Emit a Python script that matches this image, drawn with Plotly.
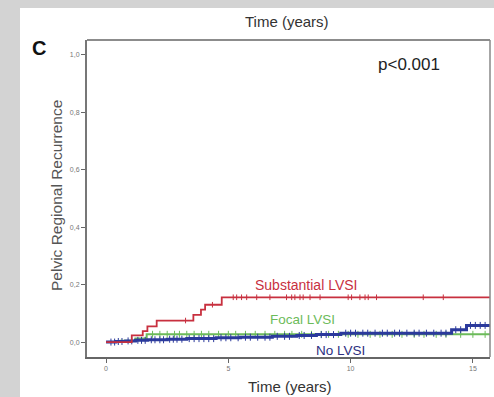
import plotly.graph_objects as go

# ---- data ----
sub_times = [0, 1.05, 1.5, 1.69, 2.07, 3.57, 3.88, 4.05, 4.73, 15.7]
sub_vals = [0, 0.023, 0.038, 0.055, 0.075, 0.095, 0.113, 0.13, 0.156, 0.156]
sub_cens = [3.25, 4.35, 5.2, 5.34, 5.54, 5.75, 6.16, 6.7, 7.38, 7.59, 7.72, 7.93,
            8.06, 8.34, 8.75, 9.9, 10.04, 10.38, 10.59, 10.72, 11.06, 12.97, 13.79]

foc_times = [0, 0.6, 1.2, 1.66, 15.7]
foc_vals = [0, 0.005, 0.012, 0.027, 0.027]
foc_cens = [1.9, 2.2, 2.5, 2.8, 3.0, 3.3, 3.6, 3.9, 4.2, 4.6, 5.0, 5.3, 5.7, 6.1,
            6.5, 6.9, 7.3, 7.6, 8.0, 8.4, 8.8, 9.1, 9.5, 9.9, 10.3, 10.8, 11.2,
            11.7, 12.1, 12.6, 13.0, 13.5, 13.9, 14.5, 15.0, 15.5]

no_times = [0, 0.4, 0.8, 1.2, 1.7, 2.5, 3.3, 4.5, 5.5, 6.8, 7.8, 8.6, 9.6, 14.13, 14.74, 15.7]
no_vals = [0, 0.002, 0.004, 0.006, 0.008, 0.010, 0.012, 0.015, 0.017, 0.020, 0.023,
           0.026, 0.031, 0.043, 0.058, 0.058]
no_cens = [0.2, 0.35, 0.5, 0.65, 0.9, 1.05, 1.3, 1.45, 1.6, 1.85, 2.0, 2.2, 2.35,
           2.6, 2.75, 2.9, 3.1, 3.4, 3.6, 3.8, 4.0, 4.2, 4.4, 4.7, 4.9, 5.1, 5.4,
           5.7, 5.9, 6.2, 6.5, 6.7, 7.0, 7.3, 7.5, 7.9, 8.1, 8.4, 8.8, 9.0, 9.3,
           9.8, 10.0, 10.2, 10.5, 10.7, 11.0, 11.3, 11.5, 11.8, 12.0, 12.3, 12.6,
           12.8, 13.1, 13.4, 13.7, 13.9, 14.3, 14.5, 14.9, 15.1, 15.3, 15.5]

x_ticks = [0, 5, 10, 15]
y_ticks = [0, 0.2, 0.4, 0.6, 0.8, 1.0]
y_tick_text = ["0,0", "0,2", "0,4", "0,6", "0,8", "1,0"]

RED = "#c8303f"
GREEN = "#6cbb5a"
BLUE = "#2b3a9c"


def step_at(times, vals, t):
    v = vals[0]
    for tt, vv in zip(times, vals):
        if tt <= t:
            v = vv
    return v


fig = go.Figure()


def add_curve(times, vals, cens, color, width, msize):
    fig.add_trace(go.Scatter(x=times, y=vals, mode="lines", line=dict(color=color, width=width, shape="hv"),
                             showlegend=False, hoverinfo="skip"))
    fig.add_trace(go.Scatter(x=cens, y=[step_at(times, vals, c) for c in cens], mode="markers",
                             marker=dict(symbol="line-ns", size=msize, line=dict(color=color, width=1)),
                             showlegend=False, hoverinfo="skip"))


add_curve(foc_times, foc_vals, foc_cens, GREEN, 2, 5)
add_curve(no_times, no_vals, no_cens, BLUE, 3, 5)
add_curve(sub_times, sub_vals, sub_cens, RED, 1.8, 4)

W, H = 494, 397
L, R, T, B = 87, 4, 40, 40
pw, ph = W - L - R, H - T - B

# grey textured surround on the left and top of the white panel
GREY = "#d3d3d3"
fig.add_shape(type="rect", xref="paper", yref="paper", x0=-L / pw - 0.01, x1=(20 - L) / pw,
              y0=-B / ph - 0.01, y1=(H - B) / ph + 0.01, fillcolor=GREY, line=dict(width=0))
fig.add_shape(type="rect", xref="paper", yref="paper", x0=-L / pw - 0.01, x1=1 + R / pw + 0.01,
              y0=(H - B - 8) / ph, y1=(H - B) / ph + 0.01, fillcolor=GREY, line=dict(width=0))

font = "Liberation Sans, Arial, sans-serif"
ann = [
    dict(text="<b>C</b>", x=39, y=48, size=20, color="#111"),
    dict(text="Time (years)", x=287, y=22, size=15, color="#333"),
    dict(text="Time (years)", x=290, y=386, size=15, color="#333"),
    dict(text="p<0.001", x=409, y=65, size=17, color="#222"),
    dict(text="Substantial LVSI", x=306, y=285, size=14, color=RED),
    dict(text="Focal LVSI", x=302, y=319, size=13.5, color=GREEN),
    dict(text="No LVSI", x=340, y=350, size=13.5, color="#2d2f7f"),
]
for a in ann:
    fig.add_annotation(text=a["text"], xref="paper", yref="paper",
                       x=(a["x"] - L) / pw, y=(H - B - a["y"]) / ph,
                       xanchor="center", yanchor="middle", showarrow=False,
                       font=dict(family=font, size=a["size"], color=a["color"]))
fig.add_annotation(text="Pelvic Regional Recurrence", xref="paper", yref="paper",
                   x=(56 - L) / pw, y=(H - B - 196) / ph, textangle=-90,
                   xanchor="center", yanchor="middle", showarrow=False,
                   font=dict(family=font, size=15.5, color="#555"))

fig.update_layout(
    width=W, height=H,
    margin=dict(l=L, r=R, t=T, b=B),
    paper_bgcolor="white",
    plot_bgcolor="white",
    font=dict(family=font),
    xaxis=dict(range=[-0.78, 15.7], tickvals=x_ticks, ticks="outside", ticklen=4,
               tickcolor="#666", tickfont=dict(size=7, color="#777"), showgrid=False,
               zeroline=False, showline=True, linecolor="#666", linewidth=1.5, mirror=False),
    yaxis=dict(range=[-0.052, 1.052], tickvals=y_ticks, ticktext=y_tick_text, ticks="outside",
               ticklen=4, tickcolor="#666", tickfont=dict(size=7, color="#777"), showgrid=False,
               zeroline=False, showline=True, linecolor="#777", linewidth=2, mirror=False),
)
# top and right frame
fig.add_shape(type="line", xref="paper", yref="paper", x0=0, x1=1, y0=1, y1=1,
              line=dict(color="#666", width=1.5))
fig.add_shape(type="line", xref="paper", yref="paper", x0=1, x1=1, y0=0, y1=1,
              line=dict(color="#888", width=1.5))

fig.write_html("out.html")
